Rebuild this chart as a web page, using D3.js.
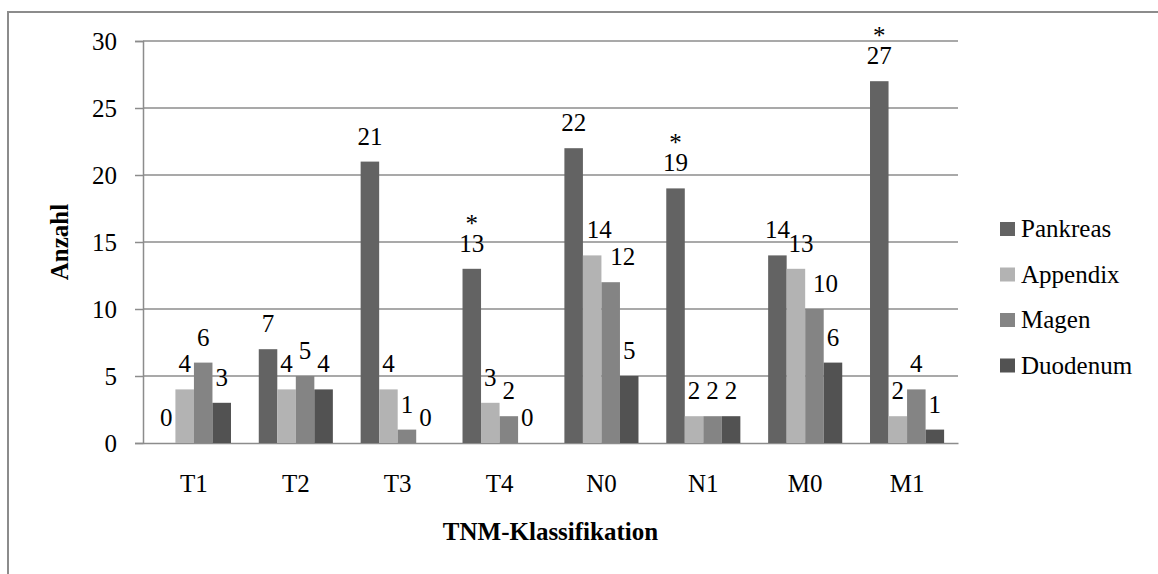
<!DOCTYPE html>
<html>
<head>
<meta charset="utf-8">
<script src="https://cdn.jsdelivr.net/npm/d3@7"></script>
<style>
body { margin:0; background:#fff; }
svg text { font-family:"Liberation Serif","Times New Roman",serif !important; fill:#000; }
</style>
</head>
<body>
<script>
var categories = ["T1","T2","T3","T4","N0","N1","M0","M1"];
var seriesNames = ["Pankreas","Appendix","Magen","Duodenum"];
var pankreas = [0,7,21,13,22,19,14,27];
var appendix = [4,4,4,3,14,2,13,2];
var magen    = [6,5,1,2,12,2,10,4];
var duodenum = [3,4,0,0,5,2,6,1];
var yTicks = [0,5,10,15,20,25,30];
// categories where the Pankreas value is marked significant (*)
var starred = ["T4","N1","M1"];

var serif = "'Liberation Serif','Times New Roman',serif";

var drawBars = function(width,height)
{
    var margins = {top:41, bottom:131, left:143, right:200};
    var graph = {
        width:958-margins.left,
        height:height-margins.top-margins.bottom
    };
    var seriesValues = [pankreas,appendix,magen,duodenum];
    var colors = ["#636363","#b3b3b3","#848484","#525252"];

    var svg = d3.select("body")
        .append("svg")
            .attr("width",width)
            .attr("height",height)
            .style("font-family",serif);

    // outer chart frame
    svg.append("rect")
        .attr("x",8).attr("y",12)
        .attr("width",width+20).attr("height",height+20)
        .attr("fill","none")
        .attr("stroke","#8c8c8c")
        .attr("stroke-width",2);

    var x0 = d3.scaleBand()
        .domain(categories)
        .range([margins.left,margins.left+graph.width]);
    // Excel gap width 150%: bars = band/(4+1.5), half gap on each side
    var x1 = d3.scaleBand()
        .domain(seriesNames)
        .range([0,x0.bandwidth()])
        .paddingOuter(0.75)
        .paddingInner(0);
    var y = d3.scaleLinear()
        .domain([0,30])
        .range([443,41]);

    // gridlines
    svg.append("g")
        .selectAll("line")
        .data(yTicks.slice(1))
        .enter()
        .append("line")
            .attr("x1",margins.left).attr("x2",margins.left+graph.width)
            .attr("y1",function(d){return y(d);})
            .attr("y2",function(d){return y(d);})
            .attr("stroke","#8c8c8c")
            .attr("stroke-width",1.5);

    var yAxis = svg.append("g")
        .attr("transform","translate("+margins.left+",0)")
        .call(d3.axisLeft(y).tickValues(yTicks).tickSize(8).tickPadding(18));
    yAxis.attr("font-family",null).attr("font-size",null);
    yAxis.select(".domain").attr("stroke","#8c8c8c").attr("stroke-width",1.5);
    yAxis.selectAll(".tick line").attr("stroke","#8c8c8c").attr("stroke-width",1.5);
    yAxis.selectAll(".tick text")
        .style("font-family",serif)
        .style("font-size","25px")
        .attr("dy","0.35em");

    var xAxis = svg.append("g")
        .attr("transform","translate(0,"+y(0)+")")
        .call(d3.axisBottom(x0).tickSize(0).tickPadding(0));
    xAxis.attr("font-family",null).attr("font-size",null);
    xAxis.select(".domain").attr("stroke","#8c8c8c").attr("stroke-width",1.5);
    xAxis.selectAll(".tick text")
        .style("font-family",serif)
        .style("font-size","25px")
        .attr("dy",null)
        .attr("y",49);

    var rows = [];
    categories.forEach(function(c,i){
        seriesNames.forEach(function(s,j){
            rows.push({cat:c, series:s, j:j, value:seriesValues[j][i],
                       star:(j==0 && starred.indexOf(c)>=0)});
        });
    });

    svg.append("g")
        .selectAll("rect")
        .data(rows)
        .enter()
        .append("rect")
            .attr("x",function(d){return x0(d.cat)+x1(d.series);})
            .attr("y",function(d){return y(d.value);})
            .attr("width",x1.bandwidth())
            .attr("height",function(d){return y(0)-y(d.value);})
            .attr("fill",function(d){return colors[d.j];});

    // Excel nudged a few crowded labels to the right
    var nudge = {"N0|Appendix":7, "N0|Magen":12, "M0|Appendix":5, "M0|Magen":11};
    var labelX = function(d){
        return x0(d.cat)+x1(d.series)+x1.bandwidth()/2+(nudge[d.cat+"|"+d.series]||0);
    };

    // two-line labels ("*" over the value) for the starred bars
    var labels = svg.append("g")
        .selectAll("text")
        .data(rows)
        .enter()
        .append("text")
            .attr("text-anchor","middle")
            .style("font-family",serif)
            .style("font-size","25px");
    labels.filter(function(d){return d.star;})
        .append("tspan")
            .attr("x",labelX)
            .attr("y",function(d){return y(d.value)-37;})
            .text("*");
    labels.append("tspan")
        .attr("x",labelX)
        .attr("y",function(d){return y(d.value)-17;})
        .text(function(d){return d.value;});

    // axis titles
    svg.append("text")
        .attr("transform","translate(68,"+(y(0)+y(30))/2+") rotate(-90)")
        .attr("text-anchor","middle")
        .style("font-family",serif)
        .style("font-size","25px")
        .style("font-weight","bold")
        .text("Anzahl");
    svg.append("text")
        .attr("x",margins.left+graph.width/2)
        .attr("y",540)
        .attr("text-anchor","middle")
        .style("font-family",serif)
        .style("font-size","25px")
        .style("font-weight","bold")
        .text("TNM-Klassifikation");

    // legend
    var legend = svg.append("g")
        .selectAll("g")
        .data(seriesNames)
        .enter()
        .append("g")
            .attr("transform",function(d,i){return "translate(1000,"+(222+i*45.5)+")";});
    legend.append("rect")
        .attr("width",15).attr("height",14)
        .attr("fill",function(d,i){return colors[i];});
    legend.append("text")
        .attr("x",21)
        .attr("y",15)
        .style("font-family",serif)
        .style("font-size","25px")
        .text(function(d){return d;});
}

drawBars(1158,574);
</script>
</body>
</html>
